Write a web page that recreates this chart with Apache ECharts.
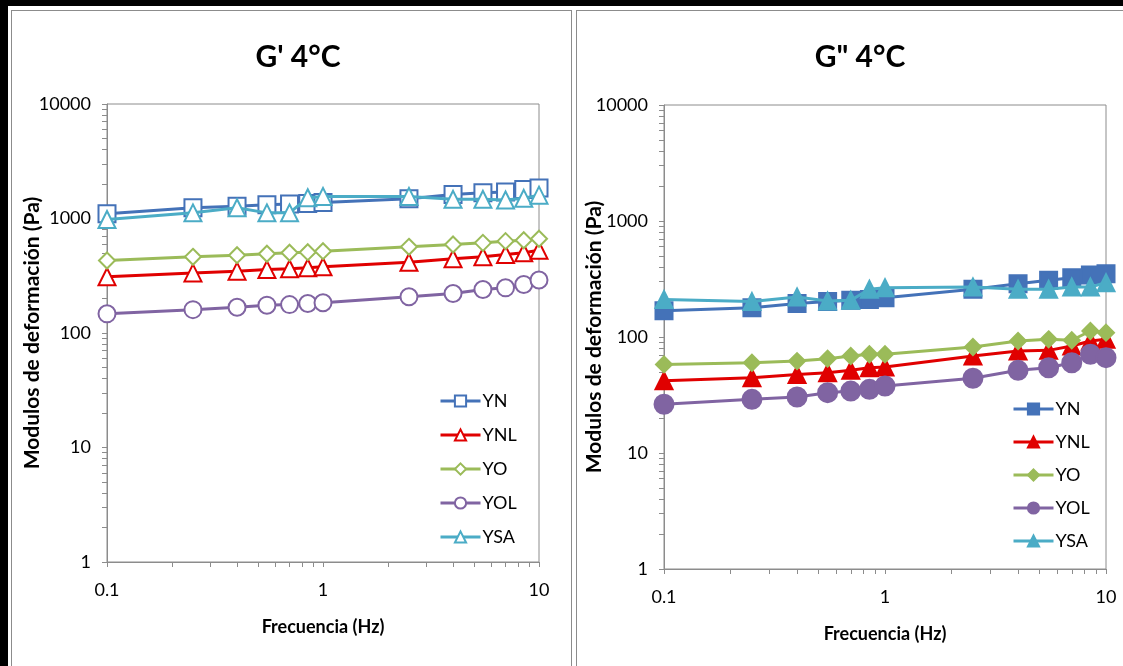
<!DOCTYPE html>
<html>
<head>
<meta charset="utf-8">
<script src="https://cdn.jsdelivr.net/npm/echarts@6/dist/echarts.min.js"></script>
<style>
body { margin: 0; width: 1123px; height: 666px; background: #fff; position: relative; overflow: hidden; }
#frame { position: absolute; left: 0; top: 0; width: 1123px; height: 666px; border-top: 6px solid #000; border-left: 8px solid #000; box-sizing: border-box; }
#boxL { position: absolute; left: 11px; top: 10px; width: 561px; height: 660px; border: 1px solid #8c8c8c; box-sizing: border-box; }
#boxR { position: absolute; left: 576px; top: 10px; width: 560px; height: 660px; border: 1px solid #8c8c8c; box-sizing: border-box; }
#chartL { position: absolute; left: 12px; top: 11px; width: 558px; height: 655px; }
#chartR { position: absolute; left: 577px; top: 11px; width: 546px; height: 655px; }
</style>
</head>
<body>
<div id="frame"></div>
<div id="boxL"></div>
<div id="boxR"></div>
<div id="chartL"></div>
<div id="chartR"></div>
<script>
// frecuencia (Hz)
var freq = [0.1, 0.25, 0.4, 0.55, 0.7, 0.85, 1, 2.5, 4, 5.5, 7, 8.5, 10];

// G' 4°C (Pa)
var gpYN  = [1100, 1240, 1280, 1320, 1340, 1350, 1380, 1490, 1620, 1680, 1700, 1790, 1850];
var gpYNL = [310, 335, 347, 358, 364, 371, 379, 415, 445, 463, 485, 502, 528];
var gpYO  = [430, 463, 478, 492, 502, 508, 518, 566, 593, 613, 634, 646, 665];
var gpYOL = [147, 160, 168, 175, 177, 181, 184, 207, 221, 240, 248, 265, 290];
var gpYSA = [980, 1120, 1240, 1120, 1120, 1520, 1560, 1560, 1470, 1470, 1450, 1500, 1600];

// G'' 4°C (Pa)
var gppYN  = [168, 179, 194, 202, 207, 211, 218, 258, 288, 308, 324, 342, 351];
var gppYNL = [42, 44.6, 47.6, 49.2, 51.6, 54.3, 55.1, 68.6, 75.7, 76.7, 83.6, 92.4, 95.5];
var gppYO  = [58, 60, 62, 65, 68.6, 71, 71, 82, 92.4, 95.5, 93.7, 112.6, 109];
var gppYOL = [26.3, 29, 30.4, 33.1, 34.2, 35.4, 37.8, 44.1, 51.6, 54.3, 60, 71, 66.4];
var gppYSA = [211, 202, 221, 204, 207, 258, 266, 270, 258, 258, 270, 270, 294];

var names = ['YN', 'YNL', 'YO', 'YOL', 'YSA'];
var colors = ['#4472B8', '#E00000', '#9BBB59', '#8064A2', '#4BACC6'];

var xLabels = [0.1, 1, 10];
var yLabels = [1, 10, 100, 1000, 10000];

// ticks menores del eje logaritmico (1..9 por decada)
function logTicks(majors) {
    var out = [];
    for (var i = 0; i < majors.length - 1; i++) {
        for (var k = 1; k < 10; k++) out.push(parseFloat((majors[i] * k).toPrecision(3)));
    }
    out.push(majors[majors.length - 1]);
    return out;
}

function fmt(v) { return String(parseFloat(Number(v).toPrecision(4))); }

var font = 'Lato';

function buildOption(title, values, symbols, sizes, lay) {
    var series = names.map(function (n, i) {
        return {
            name: n,
            type: 'line',
            data: freq.map(function (f, j) { return [f, values[i][j]]; }),
            symbol: symbols[i],
            symbolSize: sizes[i],
            lineStyle: { color: colors[i], width: 3 },
            itemStyle: { color: colors[i], borderColor: colors[i], borderWidth: 2 },
            z: 2 + i
        };
    });
    return {
        animation: false,
        textStyle: { fontFamily: font },
        title: {
            text: title,
            left: lay.titleX, top: 26, textAlign: 'center',
            textStyle: { fontFamily: font, fontSize: 30, fontWeight: 'bold', color: '#000' }
        },
        legend: {
            orient: 'vertical',
            left: lay.legendX, top: lay.legendY,
            itemWidth: 40, itemHeight: 14, itemGap: lay.legendGap,
            lineStyle: { width: 3 },
            textStyle: { fontFamily: font, fontSize: 18, color: '#000', padding: [0, 0, 0, -3] },
            data: names
        },
        grid: {
            left: lay.left, top: lay.top, width: lay.width, height: lay.height,
            show: true, borderColor: '#8c8c8c', borderWidth: 1,
            containLabel: false, outerBoundsMode: 'none'
        },
        xAxis: {
            type: 'log', logBase: 10, min: 0.1, max: 10,
            name: 'Frecuencia (Hz)', nameLocation: 'middle', nameGap: lay.xNameGap, nameMoveOverlap: false,
            nameTextStyle: { fontFamily: font, fontSize: 18, fontWeight: 'bold', color: '#000' },
            axisLine: { lineStyle: { color: '#8c8c8c' } },
            axisTick: { length: 5, customValues: logTicks(xLabels), lineStyle: { color: '#8c8c8c' } },
            minorTick: { show: true, splitNumber: 9, length: 5, lineStyle: { color: '#8c8c8c' } },
            axisLabel: { customValues: xLabels, formatter: fmt, fontFamily: font, fontSize: 18, color: '#000', margin: 19 },
            splitLine: { show: false }
        },
        yAxis: {
            type: 'log', logBase: 10, min: 1, max: 10000,
            name: 'Modulos de deformación (Pa)', nameLocation: 'middle', nameGap: lay.yNameGap, nameMoveOverlap: false,
            nameTextStyle: { fontFamily: font, fontSize: 21, fontWeight: 'bold', color: '#000' },
            axisLine: { show: true, lineStyle: { color: '#8c8c8c' } },
            axisTick: { show: true, length: 5, customValues: logTicks(yLabels), lineStyle: { color: '#8c8c8c' } },
            minorTick: { show: true, splitNumber: 9, length: 5, lineStyle: { color: '#8c8c8c' } },
            axisLabel: { customValues: yLabels, formatter: fmt, fontFamily: font, fontSize: 18, color: '#000', margin: 16 },
            splitLine: { show: false }
        },
        series: series
    };
}

var chartL = echarts.init(document.getElementById('chartL'));
chartL.setOption(buildOption("G' 4°C",
    [gpYN, gpYNL, gpYO, gpYOL, gpYSA],
    ['emptyRect', 'emptyTriangle', 'emptyDiamond', 'emptyCircle', 'emptyTriangle'],
    [17, 17, 16, 17, 17],
    { titleX: 281, legendX: 422, legendY: 376, legendGap: 16, left: 95, top: 93, width: 432, height: 458,
      xNameGap: 56, yNameGap: 64 }));

var chartR = echarts.init(document.getElementById('chartR'));
chartR.setOption(buildOption('G" 4°C',
    [gppYN, gppYNL, gppYO, gppYOL, gppYSA],
    ['rect', 'triangle', 'diamond', 'circle', 'triangle'],
    [17, 17, 16, 19, 17],
    { titleX: 278, legendX: 430, legendY: 384, legendGap: 15, left: 87, top: 94, width: 442, height: 464,
      xNameGap: 56, yNameGap: 59 }));
</script>
</body>
</html>
